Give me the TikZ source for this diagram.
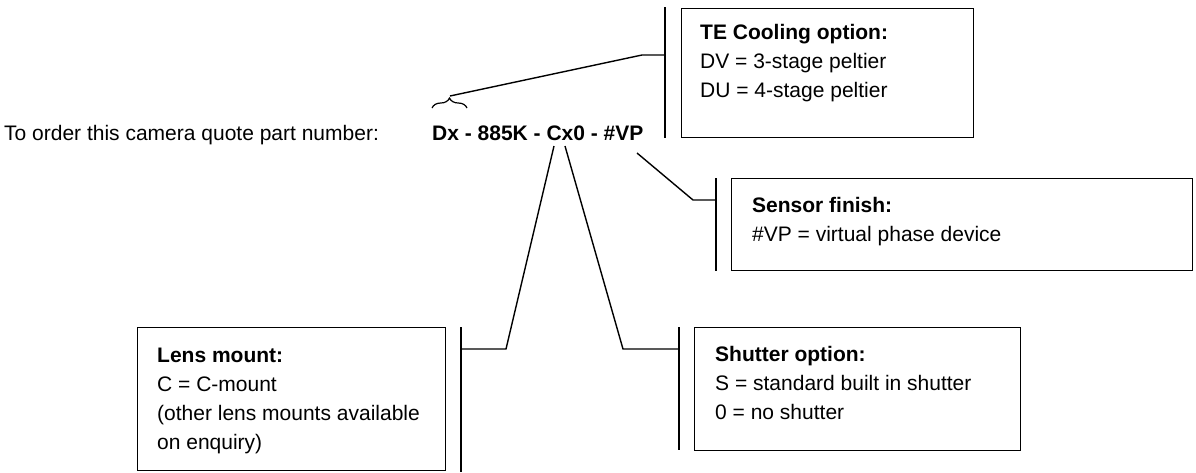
\documentclass[tikz,border=0pt]{standalone}
\usepackage{fontspec}
\setmainfont{Liberation Sans}
\usetikzlibrary{decorations.pathreplacing}
\begin{document}
\begin{tikzpicture}[x=1pt,y=-1pt,
  box/.style={draw, line width=1.4pt, inner sep=0pt, anchor=north west},
  bar/.style={line width=2pt},
  conn/.style={line width=1.4pt},
  txt/.style={anchor=base west, inner sep=0pt, align=left, font=\fontsize{21}{29}\selectfont}]
\useasboundingbox (0,0) rectangle (1196,472);
% main line
\node[txt] (order) at (4,140) {To order this camera quote part number:};
\node[txt] (part) at (432,140) {\textbf{Dx - 885K - Cx0 - \#VP}};
% brace
\coordinate (bl) at (432,108);
\coordinate (br) at (467,108);
\draw[line width=1.2pt, decorate, decoration={brace, amplitude=10pt}] (bl) -- (br);
\coordinate (btip) at (450,96);
% boxes
\node[box, minimum width=292pt, minimum height=129pt] (tebox) at (681,8) {};
\node[box, minimum width=461pt, minimum height=92pt] (senbox) at (731,178) {};
\node[box, minimum width=308pt, minimum height=143pt] (lensbox) at (137,327) {};
\node[box, minimum width=326pt, minimum height=123pt] (shutbox) at (694,327) {};
% texts (anchor = baseline of the last line)
\node[txt] (tetext) at (700,97) {\textbf{TE Cooling option:}\\DV = 3-stage peltier\\DU = 4-stage peltier};
\node[txt] (sentext) at (752,241) {\textbf{Sensor finish:}\\\#VP = virtual phase device};
\node[txt] (lenstext) at (157,449) {\textbf{Lens mount:}\\C = C-mount\\(other lens mounts available\\on enquiry)};
\node[txt] (shuttext) at (715,419) {\textbf{Shutter option:}\\S = standard built in shutter\\0 = no shutter};
% bars
\coordinate (tebt) at (665,7);  \coordinate (tebb) at (665,138); \coordinate (tej) at (665,55);
\coordinate (sebt) at (716,178); \coordinate (sebb) at (716,271); \coordinate (sej) at (716,200);
\coordinate (lbt) at (461,327); \coordinate (lbb) at (461,472); \coordinate (lj) at (461,349);
\coordinate (sbt) at (679,327); \coordinate (sbb) at (679,450); \coordinate (sj) at (679,349);
\draw[bar] (tebt) -- (tebb);
\draw[bar] (sebt) -- (sebb);
\draw[bar] (lbt) -- (lbb);
\draw[bar] (sbt) -- (sbb);
% connector start points
\coordinate (vp) at (637,153);
\coordinate (cl) at (554,146);
\coordinate (cs) at (565,146);
\draw[conn] (btip) -- (642,55) -- (tej);
\draw[conn] (vp) -- (693,200) -- (sej);
\draw[conn] (cl) -- (506,349) -- (lj);
\draw[conn] (cs) -- (623,349) -- (sj);
\end{tikzpicture}
\end{document}
